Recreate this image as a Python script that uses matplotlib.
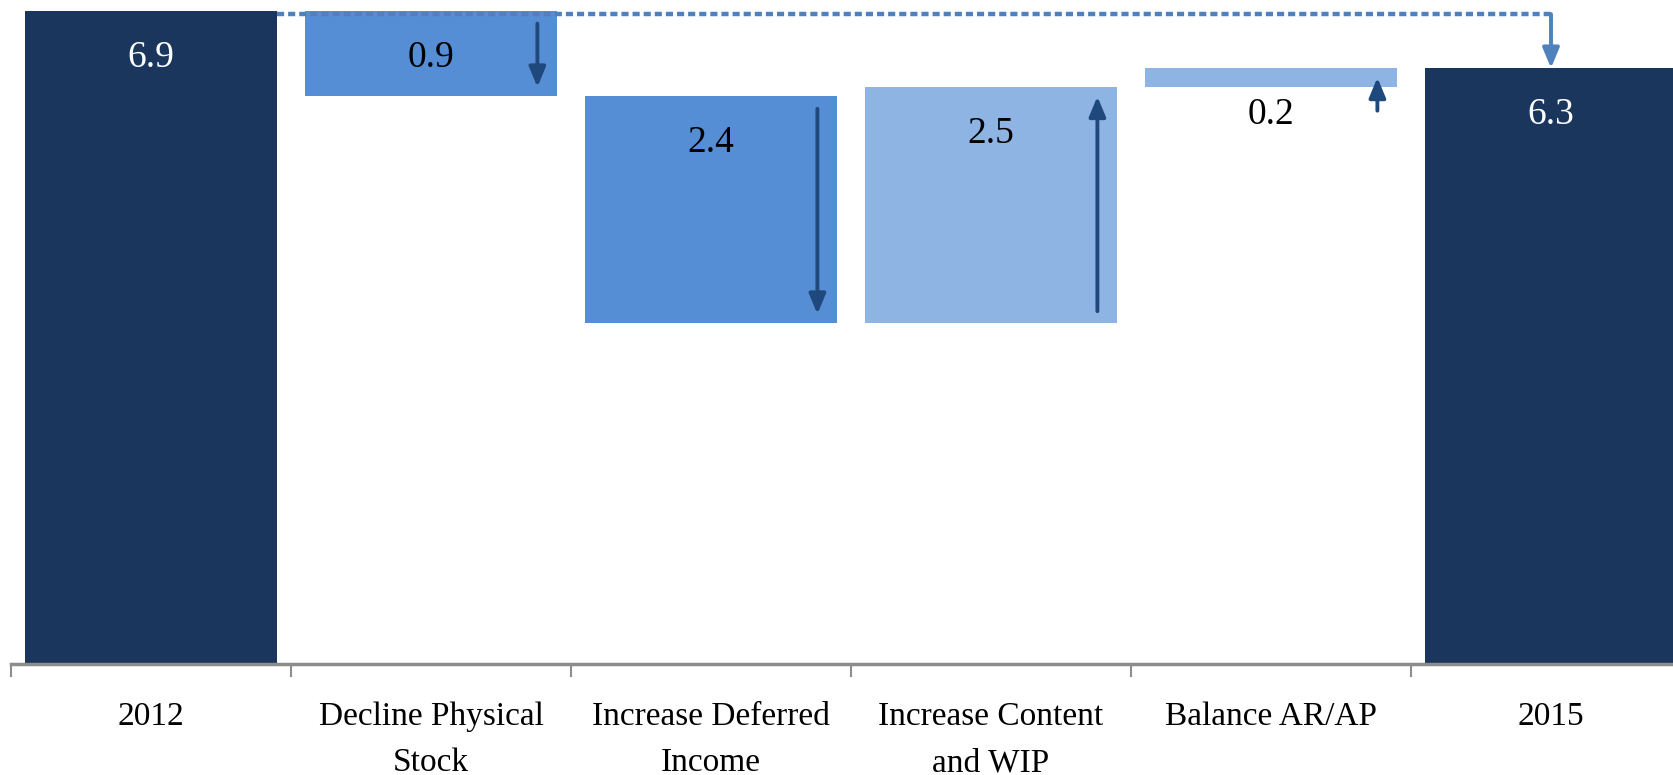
import matplotlib.pyplot as plt
import numpy as np

categories = ['2012', 'Decline Physical\nStock', 'Increase Deferred\nIncome',
              'Increase Content\nand WIP', 'Balance AR/AP', '2015']
start_value = 6.9
changes = [-0.9, -2.4, 2.5, 0.2]
end_value = 6.3

navy = '#1b365d'
down_blue = '#558ed5'
up_blue = '#8eb4e3'
arrow_blue = '#1f497d'
link_blue = '#4f81bd'

plt.rcParams['font.family'] = ['Liberation Serif', 'DejaVu Serif']

fig = plt.figure(figsize=(16.74, 7.75), dpi=100)
ax = fig.add_axes([11 / 1674, 111 / 775, 1680 / 1674, 664 / 775])

x = np.arange(len(categories))
width = 0.9
label_drop = 0.49

# totals at both ends
ax.bar(x[0], start_value, width=width, color=navy, zorder=2)
ax.bar(x[-1], end_value, width=width, color=navy, zorder=2)
ax.text(x[0], start_value - label_drop, f'{start_value:.1f}', ha='center', va='center',
        color='white', fontsize=27)
ax.text(x[-1], end_value - label_drop, f'{end_value:.1f}', ha='center', va='center',
        color='white', fontsize=27)

# floating steps in between
level = start_value
for i, d in enumerate(changes, start=1):
    lo, hi = sorted([level, level + d])
    ax.bar(x[i], hi - lo, bottom=lo, width=width,
           color=down_blue if d < 0 else up_blue, zorder=2)
    ax.text(x[i], hi - label_drop, f'{abs(d):.1f}', ha='center', va='center',
            color='black', fontsize=27)
    sign = np.sign(d)
    tip = level + d - sign * 0.1
    if abs(d) < 0.5:
        tail = tip - sign * 0.35
    else:
        tail = level + sign * 0.13
    ax_x = x[i] + width / 2 - 0.07
    ax.annotate('', xy=(ax_x, tip), xytext=(ax_x, tail),
                arrowprops=dict(arrowstyle='-|>,head_length=0.6,head_width=0.25',
                                color=arrow_blue, lw=2.8, mutation_scale=20,
                                shrinkA=0, shrinkB=0), zorder=3)
    level += d

# dotted reference line from the first total to the last
ax.plot([x[0] + width / 2, x[-1]], [start_value - 0.03] * 2, color=link_blue,
        lw=3.2, ls=(0, (1.6, 0.9)), solid_capstyle='butt', zorder=3)
ax.annotate('', xy=(x[-1], end_value), xytext=(x[-1], start_value - 0.03),
            arrowprops=dict(arrowstyle='-|>,head_length=0.6,head_width=0.25',
                            color=link_blue, lw=2.8, mutation_scale=20,
                            shrinkA=0, shrinkB=0), zorder=3)

ax.set_xlim(-0.5, len(categories) - 0.5)
ax.set_ylim(0, 7.02)
ax.set_xticks(x)
ax.set_xticklabels(categories, fontsize=24, linespacing=1.68, va='top')
ax.set_xticks(np.arange(len(categories) + 1) - 0.5, minor=True)
ax.tick_params(axis='x', which='major', length=0, pad=27)
ax.tick_params(axis='x', which='minor', length=9, width=1.5, color='#8c8c8c')
ax.set_yticks([])
for side in ['top', 'right', 'left']:
    ax.spines[side].set_visible(False)
ax.spines['bottom'].set_color('#8c8c8c')
ax.spines['bottom'].set_linewidth(2.5)

fig.savefig('out.png', dpi=100)
